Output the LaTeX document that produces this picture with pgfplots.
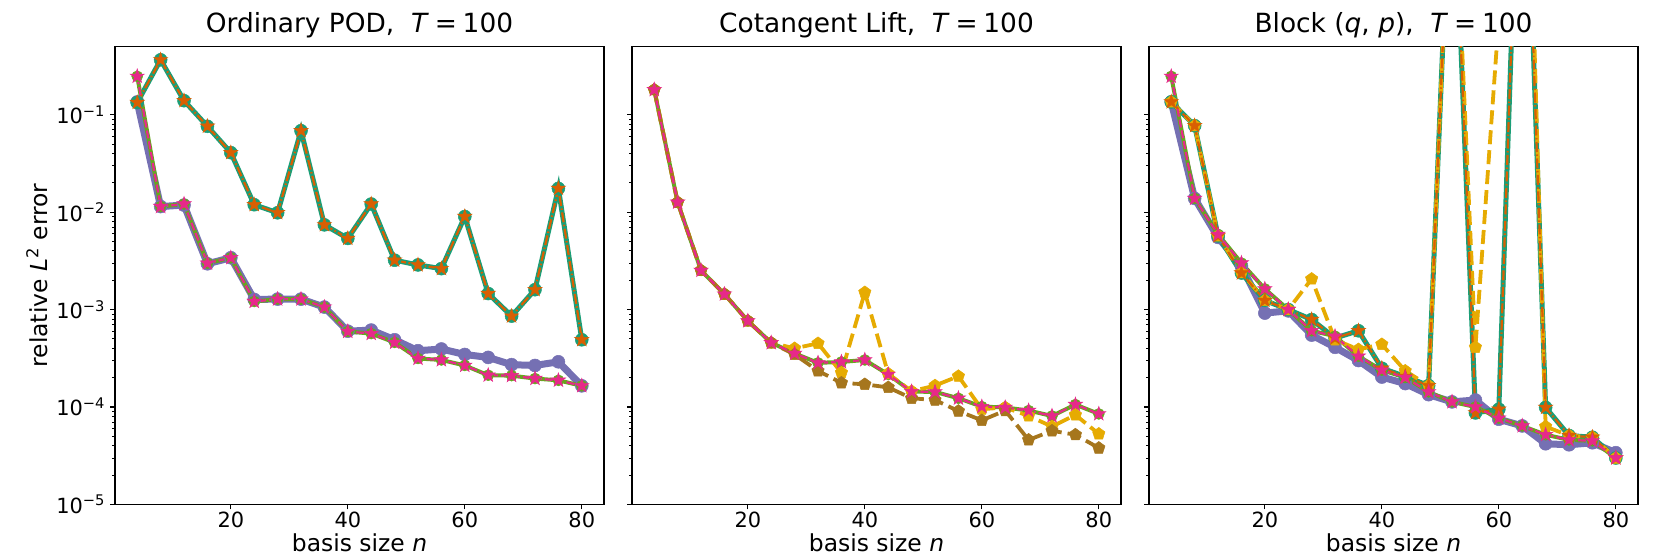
\documentclass[border=0pt]{standalone}
\usepackage{fontspec}
\setmainfont{DejaVu Sans}
\usepackage{pgfplots}
\pgfplotsset{compat=1.18}
\definecolor{dteal}{HTML}{1B9E77}
\definecolor{dorange}{HTML}{D95F02}
\definecolor{dpurple}{HTML}{7570B3}
\definecolor{dpink}{HTML}{E7298A}
\definecolor{dgreen}{HTML}{66A61E}
\definecolor{dyellow}{HTML}{E6AB02}
\definecolor{dbrown}{HTML}{A6761D}
\pgfdeclareplotmark{fstar}{%
 \pgfpathmoveto{\pgfqpoint{0pt}{\pgfplotmarksize}}%
 \pgfpathlineto{\pgfqpoint{-0.2245\pgfplotmarksize}{0.309\pgfplotmarksize}}%
 \pgfpathlineto{\pgfqpoint{-0.951\pgfplotmarksize}{0.309\pgfplotmarksize}}%
 \pgfpathlineto{\pgfqpoint{-0.363\pgfplotmarksize}{-0.118\pgfplotmarksize}}%
 \pgfpathlineto{\pgfqpoint{-0.588\pgfplotmarksize}{-0.809\pgfplotmarksize}}%
 \pgfpathlineto{\pgfqpoint{0pt}{-0.382\pgfplotmarksize}}%
 \pgfpathlineto{\pgfqpoint{0.588\pgfplotmarksize}{-0.809\pgfplotmarksize}}%
 \pgfpathlineto{\pgfqpoint{0.363\pgfplotmarksize}{-0.118\pgfplotmarksize}}%
 \pgfpathlineto{\pgfqpoint{0.951\pgfplotmarksize}{0.309\pgfplotmarksize}}%
 \pgfpathlineto{\pgfqpoint{0.2245\pgfplotmarksize}{0.309\pgfplotmarksize}}%
 \pgfpathclose\pgfusepathqfillstroke}
\pgfplotsset{
 myaxis/.style={
  scale only axis, width=489bp, height=458bp,
  anchor=south west,
  ymin=1e-5, ymax=0.5, xmin=0.2, xmax=83.8,
  xtick={20,40,60,80}, xticklabels={20,40,60,80},
  ytick={1e-5,1e-4,1e-3,1e-2,1e-1},
  tick align=outside, tick pos=left,
  major tick length=4.9bp, minor tick length=2.8bp,
  major tick style={line width=1.1bp, black},
  minor tick style={line width=0.85bp, black},
  axis line style={line width=1.1bp},
  tick label style={font=\fontsize{21}{25}\selectfont},
  xticklabel style={inner sep=0pt, yshift=-2bp},
  yticklabel style={inner sep=0pt, xshift=-4.9bp},
  xlabel={basis size \textit{n}},
  every axis x label/.style={at={(axis description cs:0.5,0)}, anchor=base, inner sep=0pt, yshift=-46.5bp, font=\fontsize{23.5}{27}\selectfont},
  every axis y label/.style={at={(axis description cs:0,0.5)}, rotate=90, anchor=center, yshift=78bp, font=\fontsize{23.5}{27}\selectfont},
  title style={at={(axis description cs:0.5,1)}, anchor=base, yshift=8bp, inner sep=0pt, font=\fontsize{26.5}{31}\selectfont},
 },
 spurple/.style={color=dpurple, solid, line width=7bp, mark=*, mark size=6.5bp, mark options={solid, fill=dpurple, draw=dpurple, line width=0.5bp}},
 steal/.style={color=dteal, solid, line width=5bp, mark=*, mark size=6.5bp, mark options={solid, fill=dteal, draw=dteal, line width=0.5bp}},
 sgreen/.style={color=dgreen, solid, line width=4bp, mark=*, mark size=5.5bp, mark options={solid, fill=dgreen, draw=dgreen, line width=0.5bp}},
 syellow/.style={color=dyellow, line width=3.8bp, dash pattern=on 14bp off 6bp, mark=pentagon*, mark size=6.5bp, mark options={solid, fill=dyellow, draw=dyellow, line width=0.5bp}},
 sbrown/.style={color=dbrown, line width=3.8bp, dash pattern=on 14bp off 6bp, mark=pentagon*, mark size=6.5bp, mark options={solid, fill=dbrown, draw=dbrown, line width=0.5bp}},
 sorange/.style={color=dorange, line width=2.2bp, dash pattern=on 10bp off 2.5bp on 1.5bp off 2.5bp, mark=fstar, mark size=7.5bp, mark options={solid, fill=dorange, draw=dorange, line width=0.5bp}},
 spink/.style={color=dpink, line width=2.2bp, dash pattern=on 8bp off 3bp, mark=fstar, mark size=7.5bp, mark options={solid, fill=dpink, draw=dpink, line width=0.5bp}},
}
\begin{document}
\begin{tikzpicture}[x=1bp,y=1bp]
\useasboundingbox (0,0) rectangle (1661,554);
% ---------------- Panel 1 ----------------
\begin{semilogyaxis}[myaxis, at={(115bp,49.5bp)},
  title={Ordinary POD,\ \ \textit{T}\hspace{0.22em}=\hspace{0.22em}100},
  ylabel={relative \textit{L}\textsuperscript{2} error},
  yticklabels={10\textsuperscript{−5},10\textsuperscript{−4},10\textsuperscript{−3},10\textsuperscript{−2},10\textsuperscript{−1}}]
\addplot[spurple] coordinates {(4,0.135)(8,0.0114)(12,0.0118)(16,0.00295)(20,0.0034)(24,0.00127)(28,0.00128)(32,0.00128)(36,0.00106)(40,0.0006)(44,6.16e-4)(48,4.9e-4)(52,3.78e-4)(56,3.94e-4)(60,3.46e-4)(64,3.23e-4)(68,2.72e-4)(72,2.67e-4)(76,2.91e-4)(80,1.65e-4)};
\addplot[steal] coordinates {(4,0.133)(8,0.365)(12,0.139)(16,0.0759)(20,0.0407)(24,0.0119)(28,0.00984)(32,0.0684)(36,0.0074)(40,0.00537)(44,0.0121)(48,0.00321)(52,0.00287)(56,0.00263)(60,0.009)(64,0.00146)(68,8.57e-4)(72,0.0016)(76,0.0175)(80,4.9e-4)};
\addplot[sgreen] coordinates {(4,0.247)(8,0.0114)(12,0.0121)(16,0.00299)(20,0.0034)(24,0.00121)(28,0.00128)(32,0.00128)(36,0.00106)(40,5.96e-4)(44,5.67e-4)(48,4.6e-4)(52,3.15e-4)(56,3.04e-4)(60,2.67e-4)(64,2.12e-4)(68,2.1e-4)(72,1.96e-4)(76,1.88e-4)(80,1.65e-4)};
\addplot[sorange] coordinates {(4,0.133)(8,0.365)(12,0.139)(16,0.0759)(20,0.0407)(24,0.0119)(28,0.00984)(32,0.0684)(36,0.0074)(40,0.00537)(44,0.0121)(48,0.00321)(52,0.00287)(56,0.00263)(60,0.009)(64,0.00146)(68,8.57e-4)(72,0.0016)(76,0.0175)(80,4.9e-4)};
\addplot[spink] coordinates {(4,0.247)(8,0.0114)(12,0.0121)(16,0.00299)(20,0.0034)(24,0.00121)(28,0.00128)(32,0.00128)(36,0.00106)(40,5.96e-4)(44,5.67e-4)(48,4.6e-4)(52,3.15e-4)(56,3.04e-4)(60,2.67e-4)(64,2.12e-4)(68,2.1e-4)(72,1.96e-4)(76,1.88e-4)(80,1.65e-4)};
\end{semilogyaxis}
% ---------------- Panel 2 ----------------
\begin{semilogyaxis}[myaxis, at={(632bp,49.5bp)},
  title={Cotangent Lift,\ \ \textit{T}\hspace{0.22em}=\hspace{0.22em}100},
  yticklabels={}]
\addplot[sgreen] coordinates {(4,0.18)(8,0.0126)(12,0.00252)(16,0.00144)(20,7.65e-4)(24,4.56e-4)(28,3.55e-4)(32,2.84e-4)(36,2.9e-4)(40,3.04e-4)(44,2.16e-4)(48,1.44e-4)(52,1.43e-4)(56,1.23e-4)(60,1.01e-4)(64,9.9e-5)(68,9.2e-5)(72,8.1e-5)(76,1.06e-4)(80,8.5e-5)};
\addplot[syellow] coordinates {(4,0.18)(8,0.0126)(12,0.00252)(16,0.00144)(20,7.65e-4)(24,4.56e-4)(28,4.0e-4)(32,4.5e-4)(36,2.25e-4)(40,1.5e-3)(44,2.2e-4)(48,1.45e-4)(52,1.66e-4)(56,2.07e-4)(60,9.5e-5)(64,9.9e-5)(68,8.1e-5)(72,6.3e-5)(76,8.3e-5)(80,5.3e-5)};
\addplot[sbrown] coordinates {(4,0.18)(8,0.0126)(12,0.00252)(16,0.00144)(20,7.65e-4)(24,4.56e-4)(28,3.46e-4)(32,2.35e-4)(36,1.77e-4)(40,1.71e-4)(44,1.59e-4)(48,1.23e-4)(52,1.18e-4)(56,9.1e-5)(60,7.3e-5)(64,9.2e-5)(68,4.6e-5)(72,5.7e-5)(76,5.2e-5)(80,3.8e-5)};
\addplot[spink] coordinates {(4,0.18)(8,0.0126)(12,0.00252)(16,0.00144)(20,7.65e-4)(24,4.56e-4)(28,3.55e-4)(32,2.84e-4)(36,2.9e-4)(40,3.04e-4)(44,2.16e-4)(48,1.44e-4)(52,1.43e-4)(56,1.23e-4)(60,1.01e-4)(64,9.9e-5)(68,9.2e-5)(72,8.1e-5)(76,1.06e-4)(80,8.5e-5)};
\end{semilogyaxis}
% ---------------- Panel 3 ----------------
\begin{semilogyaxis}[myaxis, at={(1149bp,49.5bp)},
  title={Block (\textit{q}, \textit{p}),\ \ \textit{T}\hspace{0.22em}=\hspace{0.22em}100},
  yticklabels={}]
\addplot[spurple] coordinates {(4,0.135)(8,0.0138)(12,0.0055)(16,0.0028)(20,9.2e-4)(24,9.7e-4)(28,5.47e-4)(32,4.1e-4)(36,3.0e-4)(40,2.03e-4)(44,1.74e-4)(48,1.34e-4)(52,1.13e-4)(56,1.18e-4)(60,7.5e-5)(64,6.4e-5)(68,4.2e-5)(72,4.1e-5)(76,4.3e-5)(80,3.4e-5)};
\addplot[steal] coordinates {(4,0.135)(8,0.077)(12,0.0057)(16,0.00237)(20,0.00124)(24,0.001)(28,7.9e-4)(32,5.1e-4)(36,6.06e-4)(40,2.5e-4)(44,2.06e-4)(48,1.66e-4)(52,100)(56,8.7e-5)(60,9.5e-5)(64,1000)(68,9.9e-5)(72,5.1e-5)(76,4.9e-5)(80,3.0e-5)};
\addplot[sgreen] coordinates {(4,0.247)(8,0.0138)(12,0.0059)(16,0.0030)(20,0.00163)(24,0.0010)(28,6.06e-4)(32,5.33e-4)(36,3.32e-4)(40,2.39e-4)(44,2.01e-4)(48,1.43e-4)(52,1.13e-4)(56,1.0e-4)(60,7.7e-5)(64,6.4e-5)(68,5.2e-5)(72,4.6e-5)(76,4.5e-5)(80,3.0e-5)};
\addplot[syellow] coordinates {(4,0.135)(8,0.077)(12,0.0057)(16,0.0024)(20,0.00124)(24,0.001)(28,2.06e-3)(32,4.9e-4)(36,3.9e-4)(40,4.4e-4)(44,2.35e-4)(48,1.66e-4)(52,100)(56,4.1e-4)(60,1.0)(64,1e4)(68,6.3e-5)(72,5.1e-5)(76,4.9e-5)(80,3.0e-5)};
\addplot[sorange] coordinates {(4,0.135)(8,0.077)(12,0.0057)(16,0.00237)(20,0.00124)(24,0.001)(28,7.9e-4)(32,5.1e-4)(36,6.06e-4)(40,2.5e-4)(44,2.06e-4)(48,1.66e-4)(52,100)(56,8.7e-5)(60,9.5e-5)(64,1000)(68,9.9e-5)(72,5.1e-5)(76,4.9e-5)(80,3.0e-5)};
\addplot[spink] coordinates {(4,0.247)(8,0.0138)(12,0.0059)(16,0.0030)(20,0.00163)(24,0.0010)(28,6.06e-4)(32,5.33e-4)(36,3.32e-4)(40,2.39e-4)(44,2.01e-4)(48,1.43e-4)(52,1.13e-4)(56,1.0e-4)(60,7.7e-5)(64,6.4e-5)(68,5.2e-5)(72,4.6e-5)(76,4.5e-5)(80,3.0e-5)};
\end{semilogyaxis}
\end{tikzpicture}
\end{document}
